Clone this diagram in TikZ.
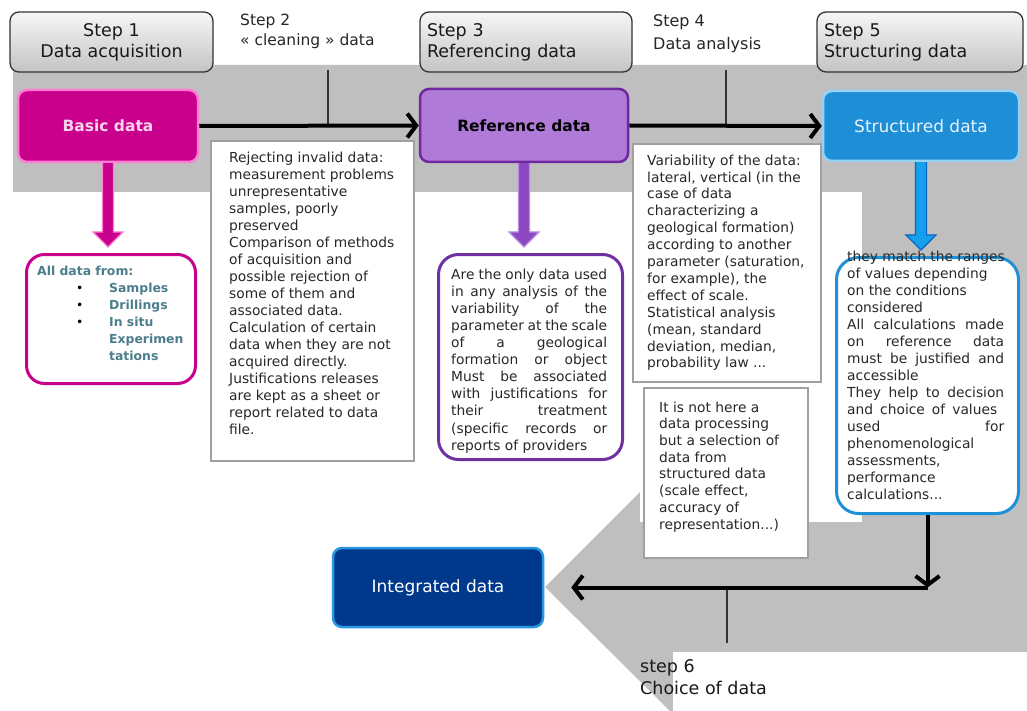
\documentclass[tikz,border=0pt]{standalone}
\usepackage{fontspec}
\setmainfont{DejaVu Sans}
\usetikzlibrary{arrows.meta,calc}

\definecolor{bggray}{RGB}{191,191,191}
\definecolor{hdrtop}{RGB}{246,246,246}
\definecolor{hdrbot}{RGB}{196,196,196}
\definecolor{magentafill}{RGB}{200,0,140}
\definecolor{pinkedge}{RGB}{255,125,210}
\definecolor{basictext}{RGB}{250,212,236}
\definecolor{reffill}{RGB}{176,122,216}
\definecolor{refedge}{RGB}{112,40,160}
\definecolor{structfill}{RGB}{30,142,214}
\definecolor{structedge}{RGB}{150,210,245}
\definecolor{structtext}{RGB}{228,242,252}
\definecolor{integfill}{RGB}{0,56,140}
\definecolor{integedge}{RGB}{40,150,225}
\definecolor{teal}{RGB}{75,125,140}
\definecolor{purpleline}{RGB}{112,48,160}
\definecolor{blueline}{RGB}{30,144,216}
\definecolor{purplearrow}{RGB}{140,72,195}
\definecolor{purplearrowedge}{RGB}{185,140,225}
\definecolor{bluearrow}{RGB}{20,160,235}
\definecolor{bluearrowedge}{RGB}{10,100,195}
\definecolor{boxedge}{RGB}{160,160,160}
\definecolor{bodytext}{RGB}{40,40,40}

\newcommand\fs[2]{\fontsize{#1}{#2}\selectfont}
% stretched (justified) line of a given width
\newcommand\J[2]{\makebox[#1][s]{#2}}
% bulleted entry of the "All data from" list
\newcommand\bitem[1]{\makebox[39pt][l]{}\makebox[33pt][l]{\textcolor{black}{\mdseries\textbullet}}#1}

% vertical block arrow from one anchor down to a point above another
\newcommand\blockarrow[4]{%
  \fill[#3] let \p1=(#1), \p2=(#2) in
    (\x1-5.5pt,\y1) -- (\x1-5.5pt,\y2+21pt) -- (\x1-15pt,\y2+21pt) --
    (\x1,\y2+6pt) -- (\x1+15pt,\y2+21pt) -- (\x1+5.5pt,\y2+21pt) --
    (\x1+5.5pt,\y1) -- cycle;
  \draw[#4, line width=1.3pt, line join=miter] let \p1=(#1), \p2=(#2) in
    (\x1-5.5pt,\y1) -- (\x1-5.5pt,\y2+21pt) -- (\x1-15pt,\y2+21pt) --
    (\x1,\y2+6pt) -- (\x1+15pt,\y2+21pt) -- (\x1+5.5pt,\y2+21pt) --
    (\x1+5.5pt,\y1);
}

\begin{document}
\begin{tikzpicture}[x=1pt,y=-1pt,
  header/.style={draw=black!80, line width=1.3pt, rounded corners=9pt,
    top color=hdrtop, bottom color=hdrbot, minimum height=60pt,
    font=\fs{17.5}{21}, text=black!90},
  textbox/.style={draw=boxedge, line width=2pt, fill=white},
  roundbox/.style={fill=white, line width=3pt},
  datanode/.style={rounded corners=9pt, line width=2.5pt, font=\fs{17}{20}},
  flow/.style={line width=4pt, -{Straight Barb[length=9pt,width=24pt]}},
  tick/.style={line width=1.5pt, draw=black!80},
  body/.style={anchor=north west, inner sep=0pt, align=left,
    font=\fs{13.8}{17.05}, text=bodytext},
  steplabel/.style={anchor=north west, inner sep=0pt, align=left, text=black!85},
]
\useasboundingbox (0,0) rectangle (1027,711);

% grey backdrop: top band, right column and the arrow pointing left
\fill[bggray] (13,65) -- (1027,65) -- (1027,711) -- (670,711) -- (545,587)
  -- (652,480) -- (652,192) -- (13,192) -- cycle;
\fill[white] (640,192) rectangle (862,522);
\fill[white] (673,652) rectangle (1027,711);

% step headers
\node[header, minimum width=203pt, align=center] (h1) at (111.5,42)
  {Step 1\\Data acquisition};
\node[header, minimum width=212pt, text width=198pt, inner xsep=7pt, align=left] (h3) at (526,42)
  {Step 3\\Referencing data};
\node[header, minimum width=206pt, text width=192pt, inner xsep=7pt, align=left] (h5) at (920,42)
  {Step 5\\Structuring data};

\node[steplabel, font=\fs{15.5}{20}] (s2lab) at (240,13.5)
  {Step 2\\« cleaning » data};
\node[steplabel, font=\fs{16}{23}] (s4lab) at (653,14.5)
  {Step 4\\Data analysis};

% data nodes
\node[datanode, fill=magentafill, draw=pinkedge, text=basictext,
  minimum width=180pt, minimum height=72pt, font=\bfseries\fs{15.5}{20}] (basic) at (108,126) {Basic data};
\node[datanode, fill=reffill, draw=refedge, text=black,
  minimum width=208pt, minimum height=73pt, font=\bfseries\fs{15.5}{20}] (ref) at (524,125.5) {Reference data};
\node[datanode, fill=structfill, draw=structedge, text=structtext,
  minimum width=196pt, minimum height=70pt] (struct) at (921,126) {Structured data};
\node[datanode, fill=integfill, draw=integedge, text=white,
  minimum width=210pt, minimum height=79pt] (integ) at (438,587.5) {Integrated data};

% step 2 and step 4 markers on the main flow
\coordinate (t2) at (328,70);
\coordinate (t4) at (726,70);
\draw[tick] (t2) -- (t2 |- basic.east);
\draw[tick] (t4) -- (t4 |- ref.east);
\draw[flow] (basic.east) -- (ref.west);
\draw[flow] (ref.east) -- (struct.west);

% explanation boxes
\node[textbox, minimum width=203pt, minimum height=320pt, anchor=north west] (s2box) at (210,140) {};
\node[body] (s2text) at ($(s2box.north west)+(19,11.5)$)
  {Rejecting invalid data:\\
   measurement problems\\
   unrepresentative\\
   samples, poorly\\
   preserved\\
   Comparison of methods\\
   of acquisition and\\
   possible rejection of\\
   some of them and\\
   associated data.\\
   Calculation of certain\\
   data when they are not\\
   acquired directly.\\
   Justifications releases\\
   are kept as a sheet or\\
   report related to data\\
   file.};

\node[textbox, minimum width=188pt, minimum height=238pt, anchor=north west] (s4box) at (632,143) {};
\node[body, font=\fs{13.8}{16.9}] (s4text) at ($(s4box.north west)+(15,11.5)$)
  {Variability of the data:\\
   lateral, vertical (in the\\
   case of data\\
   characterizing a\\
   geological formation)\\
   according to another\\
   parameter (saturation,\\
   for example), the\\
   effect of scale.\\
   Statistical analysis\\
   (mean, standard\\
   deviation, median,\\
   probability law ...};

\node[textbox, minimum width=164pt, minimum height=170pt, anchor=north west] (notebox) at (643,387) {};
\node[body, font=\fs{13.8}{16.7}] (notetext) at ($(notebox.north west)+(16,14.5)$)
  {It is not here a\\
   data processing\\
   but a selection of\\
   data from\\
   structured data\\
   (scale effect,\\
   accuracy of\\
   representation...)};

\node[roundbox, draw=magentafill, rounded corners=18pt, minimum width=169pt, minimum height=129pt,
  anchor=north west] (allbox) at (25,253) {};
\node[body, font=\bfseries\fs{12.4}{17}, text=teal] (alltext) at ($(allbox.north west)+(12,13)$)
  {All data from:\\
   \bitem{Samples}\\
   \bitem{Drillings}\\
   \bitem{In situ}\\
   \makebox[72pt][l]{}Experimen\\
   \makebox[72pt][l]{}tations};

\node[roundbox, draw=purpleline, rounded corners=20pt, minimum width=184pt, minimum height=205pt,
  anchor=north west] (refbox) at (437,253) {};
\node[body, font=\fs{13.8}{17.1}] (reftext) at ($(refbox.north west)+(14,15.5)$)
  {\J{156pt}{Are the only data used}\\
   \J{156pt}{in any analysis of the}\\
   \J{156pt}{variability of the}\\
   \J{156pt}{parameter at the scale}\\
   \J{156pt}{of a geological}\\
   \J{156pt}{formation or object}\\
   \J{156pt}{Must be associated}\\
   \J{156pt}{with justifications for}\\
   \J{156pt}{their treatment}\\
   \J{156pt}{(specific records or}\\
   reports of providers};

\node[roundbox, draw=blueline, rounded corners=22pt, minimum width=182pt, minimum height=256pt,
  anchor=north west] (bluebox) at (835,256) {};
\node[body, font=\fs{13.8}{17}] (bluetext) at ($(bluebox.north west)+(12,-5.5)$)
  {they match the ranges\\
   of values depending\\
   on the conditions\\
   considered\\
   \J{157pt}{All calculations made}\\
   \J{157pt}{on reference data}\\
   \J{157pt}{must be justified and}\\
   accessible\\
   \J{157pt}{They help to decision}\\
   \J{150pt}{and choice of values}\\
   \J{157pt}{used for}\\
   phenomenological\\
   assessments,\\
   performance\\
   calculations...};

% coloured block arrows down to the descriptions
\blockarrow{basic.south}{allbox.north}{magentafill}{pinkedge}
\blockarrow{ref.south}{refbox.north}{purplearrow}{purplearrowedge}
\blockarrow{struct.south}{bluebox.north}{bluearrow}{bluearrowedge}

% step 6: choice of data
\coordinate (corner) at (bluebox.south |- integ.east);
\coordinate (t6) at (727,643);
\draw[tick] (t6) -- (t6 |- corner);
\draw[flow] (bluebox.south) -- (corner);
\draw[flow, shorten >=27pt] (corner) -- (integ.east);
\node[steplabel, font=\fs{17.5}{22}, text=black!90] (s6lab) at (640,659)
  {step 6\\Choice of data};

\end{tikzpicture}
\end{document}
